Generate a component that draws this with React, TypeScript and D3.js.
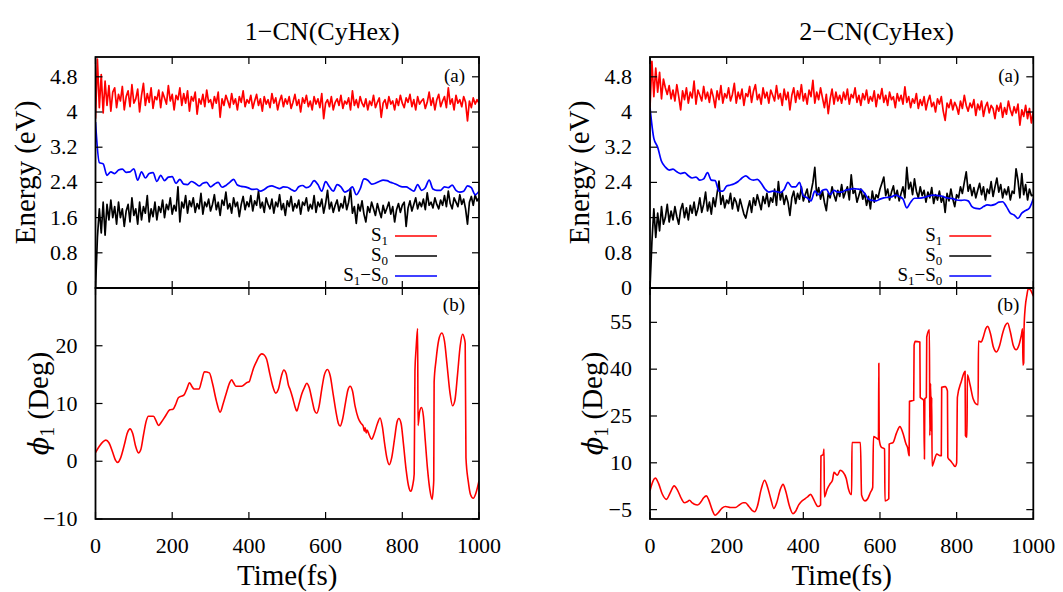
import React from 'react';
import * as d3 from 'd3';

// ---- data ----
const timeTicks = [0, 200, 400, 600, 800, 1000];
const energyTicks = [0, 0.8, 1.6, 2.4, 3.2, 4, 4.8];
const phiLeftTicks = [-10, 0, 10, 20];
const phiRightTicks = [-5, 10, 25, 40, 55];

// S1 / S0 energies (eV), one value every 5 fs
const s1Left = [
  3.85, 5.2, 4.1, 4.85, 3.98, 4.7, 4.15, 4.6, 4.02, 4.45, 4.55,
  4.1, 4.4, 4.25, 4.58, 4.05, 4.35, 4.48, 4.12, 4.62, 4.2,
  4.3, 4.52, 4.0, 4.38, 4.65, 4.15, 4.42, 4.22, 4.55, 4.08,
  4.35, 4.28, 4.5, 4.1, 4.45, 4.32, 4.18, 4.6, 4.25, 4.4,
  4.05, 4.38, 4.28, 4.55, 4.15, 4.42, 4.2, 4.48, 4.02, 4.35,
  4.25, 4.45, 3.95, 4.3, 4.18, 4.4, 4.12, 4.5, 4.22, 4.28,
  4.08, 4.35, 4.2, 4.45, 3.88, 4.3, 4.15, 4.38, 4.25, 4.1,
  4.42, 4.18, 4.3, 4.05, 4.35, 4.22, 4.48, 4.12, 4.28, 4.2,
  4.38, 4.08, 4.25, 4.4, 4.15, 4.3, 4.02, 4.35, 4.18, 4.28,
  4.1, 4.42, 4.2, 4.32, 4.05, 4.25, 4.38, 4.12, 4.3, 4.18,
  4.35, 4.08, 4.22, 4.4, 4.15, 4.28, 4.0, 4.32, 4.2, 4.38,
  4.12, 4.25, 4.05, 4.35, 4.18, 4.3, 4.1, 4.42, 3.85, 4.2,
  4.28, 4.12, 4.35, 4.05, 4.22, 4.3, 4.15, 4.38, 4.08, 4.25,
  4.18, 4.32, 4.05, 4.48, 4.15, 4.28, 4.1, 4.35, 4.2, 4.12,
  4.3, 4.05, 4.25, 4.15, 4.38, 4.1, 4.22, 4.32, 3.88, 4.2,
  4.28, 4.08, 4.35, 4.18, 4.25, 4.05, 4.3, 4.15, 4.38, 4.2,
  4.1, 4.32, 4.22, 4.4, 4.12, 4.28, 4.05, 4.35, 4.18, 4.25,
  4.3, 4.08, 4.22, 4.45, 4.15, 4.32, 4.05, 4.28, 4.4, 4.12,
  4.25, 4.35, 4.1, 4.55, 4.18, 4.3, 4.05, 4.38, 4.2, 4.28,
  4.12, 4.35, 4.22, 3.8, 4.25, 4.1, 4.32, 4.18, 4.28, 4.2,
];
const s0Left = [
  0.0, 1.15, 1.8, 1.25, 1.95, 1.2, 1.9, 1.55, 2.0, 1.6, 1.85,
  1.45, 1.95, 1.6, 1.8, 1.4, 1.75, 1.9, 1.5, 2.05, 1.65,
  1.8, 1.45, 1.95, 1.55, 1.85, 1.7, 2.1, 1.5, 1.8, 1.62,
  1.95, 1.55, 1.85, 1.72, 2.0, 1.6, 1.9, 1.78, 2.05, 1.68,
  1.88, 1.75, 2.3, 1.5, 1.95, 1.82, 2.1, 1.7, 1.98, 1.85,
  2.05, 1.72, 1.92, 1.8, 2.15, 1.68, 1.95, 1.85, 2.02, 1.75,
  1.9, 2.12, 1.78, 1.95, 1.65, 2.0, 1.88, 2.18, 1.8, 1.92,
  1.7, 2.05, 1.85, 1.95, 1.62, 1.9, 2.08, 1.78, 1.96, 1.85,
  2.1, 1.75, 1.98, 1.88, 2.2, 1.82, 1.95, 1.72, 2.05, 1.9,
  1.8, 2.02, 1.7, 1.95, 1.85, 2.12, 1.78, 1.92, 1.65, 1.98,
  1.85, 2.08, 1.75, 1.92, 1.82, 2.0, 1.68, 1.95, 1.88, 2.05,
  1.75, 1.9, 1.8, 2.1, 1.72, 1.95, 1.85, 2.02, 1.7, 1.92,
  2.22, 1.8, 1.95, 1.72, 1.88, 2.0, 1.75, 1.92, 1.82, 2.08,
  1.78, 1.95, 2.26, 1.7, 1.85, 1.47, 1.9, 1.75, 1.98, 1.68,
  1.5, 1.85, 1.72, 1.95, 1.8, 1.65, 1.92, 1.75, 1.6, 1.88,
  1.7, 1.82, 1.95, 1.68, 1.85, 1.5, 1.78, 1.92, 1.72, 1.88,
  1.95, 1.4, 1.82, 1.98, 1.75, 1.9, 2.05, 1.8, 1.95, 1.85,
  2.02, 1.78, 2.16, 1.88, 1.95, 1.82, 2.05, 1.9, 1.8, 2.0,
  1.88, 2.1, 1.85, 2.2, 1.92, 1.8, 2.05, 1.95, 1.85, 2.12,
  1.9, 2.02, 1.8, 1.45, 1.95, 2.08, 1.88, 2.12, 1.98, 2.05,
];
const s1Right = [
  4.1, 5.15, 4.35, 5.0, 4.45, 4.9, 4.3, 4.75, 4.55, 4.4, 4.6,
  4.3, 4.5, 4.25, 4.62, 4.35, 4.05, 4.48, 4.28, 4.55, 4.2,
  4.45, 4.32, 4.7, 4.18, 4.5, 4.38, 4.25, 4.58, 4.3, 4.45,
  4.22, 4.52, 4.35, 4.1, 4.48, 4.28, 4.6, 4.2, 4.42, 4.32,
  4.55, 4.25, 4.4, 4.65, 4.2, 4.45, 4.3, 4.52, 4.15, 4.42,
  4.35, 4.58, 4.22, 4.48, 4.62, 4.28, 4.4, 4.18, 4.55, 4.32,
  4.45, 4.2, 4.5, 4.38, 4.25, 4.6, 4.3, 4.42, 4.15, 4.52,
  4.28, 4.45, 4.05, 4.38, 4.55, 4.22, 4.48, 4.3, 4.62, 4.25,
  4.42, 4.18, 4.5, 4.35, 4.72, 4.2, 4.45, 4.28, 4.55, 4.32,
  4.1, 4.4, 3.96, 4.3, 4.52, 4.18, 4.45, 4.25, 4.38, 4.2,
  4.45, 4.28, 4.52, 4.18, 4.4, 4.32, 4.55, 4.22, 4.38, 4.15,
  4.42, 4.28, 4.5, 4.2, 4.35, 4.25, 4.48, 4.12, 4.4, 4.3,
  4.53, 4.22, 4.38, 4.15, 4.45, 4.28, 4.35, 4.1, 4.42, 4.25,
  4.38, 4.18, 4.57, 4.22, 4.35, 4.1, 4.3, 4.2, 4.42, 4.08,
  4.28, 4.15, 4.35, 4.05, 4.25, 4.38, 4.12, 4.22, 4.0, 4.3,
  4.18, 4.35, 4.02, 3.81, 4.2, 4.1, 4.28, 4.05, 4.22, 4.12,
  3.95, 4.25, 4.08, 4.38, 4.15, 4.02, 4.2, 4.1, 4.28, 3.92,
  4.18, 4.05, 4.25, 3.9, 4.12, 4.22, 3.98, 4.15, 4.08, 3.85,
  4.15, 4.02, 4.2, 3.88, 4.1, 3.95, 4.25, 4.05, 3.92, 4.12,
  3.98, 4.18, 3.7, 4.05, 3.9, 4.15, 3.85, 4.08, 3.75, 4.02,
];
const s0Right = [
  0.0, 1.05, 1.8, 1.15, 1.7, 1.3, 1.85, 1.45, 1.6, 1.9, 1.5,
  1.75, 1.55, 1.85, 1.62, 1.45, 1.78, 1.92, 1.6, 1.82, 1.55,
  1.88, 1.7, 1.95, 1.65, 1.8, 2.05, 1.72, 1.9, 2.18, 1.75,
  1.95, 1.68, 2.05, 1.85, 2.15, 2.43, 1.9, 2.1, 1.82, 2.0,
  1.92, 2.15, 1.8, 2.05, 1.95, 1.75, 2.02, 1.85, 1.68, 1.59,
  1.8, 1.98, 1.72, 2.05, 1.88, 2.12, 1.95, 1.78, 2.08, 1.92,
  2.15, 1.85, 2.05, 1.95, 2.25, 1.88, 2.42, 2.0, 2.18, 1.9,
  2.1, 1.95, 1.65, 2.05, 2.2, 1.92, 2.15, 2.02, 2.3, 1.98,
  2.12, 2.25, 1.95, 2.18, 2.4, 2.74, 2.1, 2.28, 2.02, 2.2,
  1.95, 1.76, 2.15, 2.05, 2.3, 2.12, 1.98, 2.22, 2.08, 2.35,
  2.05, 2.18, 2.3, 2.0, 2.57, 2.15, 2.22, 1.95, 2.1, 2.25,
  2.02, 2.15, 1.88, 2.08, 1.8, 2.2, 1.95, 2.12, 2.05, 2.25,
  2.38, 2.52, 2.1, 2.25, 2.0, 2.18, 2.32, 2.05, 2.22, 1.98,
  2.15, 2.3, 2.05, 2.74, 2.25, 2.4, 2.12, 2.48, 2.2, 2.05,
  2.3, 2.1, 2.22, 1.95, 2.18, 2.05, 2.28, 1.92, 2.12, 2.0,
  2.2, 1.95, 2.08, 1.72, 2.15, 1.98, 2.25, 2.02, 1.85, 2.12,
  2.05, 2.3, 2.15, 2.4, 2.64, 2.2, 2.35, 2.1, 2.28, 2.05,
  2.22, 2.38, 2.12, 2.3, 2.0, 2.25, 2.15, 2.42, 2.08, 2.3,
  2.5, 2.18, 2.35, 2.05, 2.25, 2.12, 2.3, 2.0, 2.2, 2.15,
  2.71, 2.45, 2.05, 2.6, 2.12, 2.35, 2.0, 2.25, 2.1, 2.11,
];

// S1-S0 gap (eV), one value every 10 fs
const gapLeft = [
  3.77, 2.85, 2.82, 2.56, 2.64, 2.6, 2.68, 2.7, 2.63, 2.64,
  2.71, 2.45, 2.64, 2.5, 2.6, 2.62, 2.42, 2.56, 2.44, 2.52,
  2.53, 2.38, 2.47, 2.36, 2.35, 2.42, 2.38, 2.32, 2.38, 2.4,
  2.3, 2.36, 2.4, 2.29, 2.33, 2.4, 2.47, 2.34, 2.31, 2.3,
  2.27, 2.24, 2.25, 2.2, 2.24, 2.3, 2.32, 2.29, 2.26, 2.3,
  2.29, 2.24, 2.2, 2.3, 2.33, 2.28, 2.32, 2.44, 2.35, 2.2,
  2.42, 2.3, 2.2, 2.35, 2.3, 2.18, 2.22, 2.3, 2.12, 2.25,
  2.48, 2.45, 2.36, 2.38, 2.42, 2.45, 2.44, 2.4, 2.37, 2.33,
  2.3, 2.3, 2.25, 2.2, 2.35, 2.22, 2.28, 2.45, 2.25, 2.22,
  2.22, 2.3, 2.28, 2.34, 2.22, 2.18, 2.2, 2.32, 2.28, 2.12,
  2.2,
];
const gapRight = [
  4.1, 3.4, 3.2, 2.88, 2.75, 2.68, 2.7, 2.64, 2.6, 2.62,
  2.55, 2.5, 2.52, 2.45, 2.48, 2.62, 2.45, 2.44, 2.2, 2.2,
  2.32, 2.34, 2.37, 2.42, 2.5, 2.55, 2.48, 2.45, 2.47, 2.38,
  2.25, 2.18, 2.2, 2.19, 2.17, 2.24, 2.4, 2.3, 2.3, 2.4,
  2.1, 2.05, 1.98, 2.2, 2.12, 2.22, 2.24, 2.12, 2.22, 2.18,
  2.18, 2.22, 2.24, 2.26, 2.25, 2.24, 2.15, 2.02, 1.99, 1.98,
  2.02, 2.05, 2.06, 2.07, 2.11, 2.08, 2.02, 1.82, 1.95, 2.04,
  2.04, 2.05, 2.07, 2.1, 2.11, 2.1, 2.09, 2.06, 2.04, 2.03,
  2.0, 1.99, 2.0, 1.98, 1.85, 1.81, 1.8, 1.85, 1.89, 1.88,
  1.9, 1.95, 1.96, 1.85, 1.7, 1.66, 1.58, 1.7, 1.76, 1.82,
  2.03,
];

// dihedral phi1 (deg): [time fs, angle]
const phiLeft: [number, number][] = [
  [0, 1.5], [10, 2.6], [20, 3.4], [27, 3.65], [35, 3.2], [45, 1.5], [52, 0.2], [58, -0.2],
  [65, 0.5], [75, 2.8], [83, 4.9], [90, 5.6], [97, 4.8], [105, 2.5], [112, 1.45], [118, 2.0],
  [125, 4.5], [132, 6.9], [138, 7.8], [151, 7.8], [158, 7.0], [164, 6.2], [172, 6.8], [182, 7.8],
  [194, 8.9], [202, 9.0], [210, 10.0], [216, 11.0], [231, 11.5], [238, 12.5], [245, 13.6],
  [251, 13.0], [257, 12.5], [270, 12.5], [277, 14.0], [284, 15.5], [297, 15.3], [305, 13.5],
  [315, 10.5], [325, 8.5], [333, 10.0], [342, 12.0], [350, 13.6], [355, 14.1], [360, 13.6],
  [366, 13.0], [381, 13.0], [394, 13.6], [401, 13.8], [406, 14.8], [412, 16.1], [420, 17.3],
  [428, 18.3], [433, 18.6], [440, 18.4], [446, 17.7], [455, 15.0], [463, 12.8], [470, 11.8],
  [477, 12.5], [485, 14.8], [491, 15.8], [497, 15.2], [503, 13.2], [507, 12.5], [514, 11.0],
  [520, 9.5], [525, 8.7], [531, 10.0], [538, 11.7], [545, 12.8], [551, 13.5], [557, 12.8],
  [565, 10.5], [571, 8.8], [577, 8.3], [583, 9.5], [590, 12.5], [597, 15.0], [605, 15.9],
  [612, 14.8], [620, 11.5], [628, 8.2], [633, 6.6], [638, 6.1], [645, 7.5], [652, 10.2],
  [658, 12.3], [664, 13.0], [670, 12.2], [677, 9.5], [685, 7.5], [692, 6.6], [698, 6.1],
  [701, 5.2], [703, 5.8], [706, 4.9], [708, 5.4], [714, 4.5], [720, 3.8], [727, 4.8],
  [735, 6.5], [742, 7.5], [748, 6.0], [754, 3.0], [760, 0.5], [766, -0.6], [772, 0.5],
  [780, 4.0], [786, 6.7], [791, 7.4], [797, 6.5], [803, 3.0], [810, -1.5], [816, -4.2],
  [822, -5.2], [827, -4.2], [831, -2.2], [833, 15.7], [836, 19.5], [840, 23.0], [841, 6.2],
  [845, 8.5], [850, 9.3], [855, 7.8], [860, 3.5], [866, -1.5], [872, -5.0], [878, -6.6],
  [881, -4.5], [882, -3.3], [883, 13.7], [888, 17.5], [895, 21.0], [903, 22.2], [910, 20.8],
  [917, 16.5], [924, 12.0], [931, 9.6], [937, 10.5], [944, 15.0], [951, 20.0], [957, 22.0],
  [962, 21.2], [964, 20.4], [966, 0.6], [972, -3.5], [978, -5.8], [985, -6.4], [992, -5.5],
  [1000, -3.4],
];
const phiRight: [number, number][] = [
  [0, 1.0], [5, 3.2], [14, 5.1], [22, 3.5], [32, 0.0], [43, -1.7], [52, 0.2], [63, 2.6],
  [72, 1.2], [82, -1.5], [90, -2.8], [97, -2.5], [103, -2.0], [110, -2.8], [116, -3.3],
  [124, -3.5], [133, -2.5], [140, -1.2], [147, -0.6], [153, -1.8], [162, -5.0], [170, -6.8],
  [178, -6.0], [188, -4.5], [197, -4.0], [210, -4.3], [223, -4.3], [233, -3.5], [243, -2.8],
  [249, -2.8], [258, -4.0], [267, -5.3], [273, -5.7], [280, -4.0], [290, 1.5], [299, 4.4],
  [306, 2.5], [315, -1.5], [323, -4.6], [330, -3.0], [340, 1.5], [347, 3.1], [354, 1.0],
  [363, -3.5], [373, -6.3], [380, -5.5], [388, -3.5], [395, -2.4], [405, -1.5], [412, -0.8],
  [419, -0.1], [425, -1.2], [432, -3.0], [438, -4.0], [445, -3.5], [446, 12.2], [452, 12.7],
  [454, 14.4], [455, -0.9], [462, 1.5], [470, 3.3], [476, 4.4], [480, 7.0], [484, 6.5],
  [489, 6.0], [496, 7.6], [504, 7.0], [512, 5.0], [518, 1.5], [524, -0.1], [526, -0.1],
  [527, 16.5], [549, 16.5], [552, -0.3], [561, -2.2], [568, -1.5], [575, 0.5], [581, 2.1],
  [583, 18.4], [591, 17.9], [596, 17.5], [597, 41.9], [598, 17.5], [603, 15.1], [612, 14.4],
  [613, -2.2], [623, -1.5], [624, 16.0], [634, 16.5], [643, 19.5], [652, 21.6], [660, 19.5],
  [668, 16.0], [672, 14.9], [676, 12.3], [677, 29.7], [688, 30.0], [689, 47.6], [692, 48.9],
  [704, 48.7], [705, 31.0], [714, 30.0], [716, 11.2], [717, 30.5], [721, 31.0], [722, 50.3],
  [729, 52.6], [730, 18.7], [732, 35.4], [734, 20.0], [735, 31.0], [736, 8.9], [741, 10.5],
  [748, 12.8], [757, 12.3], [760, 12.3], [761, 34.2], [770, 34.4], [776, 33.0], [777, 11.7],
  [785, 10.5], [791, 9.5], [796, 8.8], [800, 10.0], [802, 31.0], [812, 36.0], [822, 39.3],
  [823, 18.7], [827, 18.2], [828, 38.2], [835, 35.0], [843, 30.5], [851, 28.8], [856, 28.6],
  [857, 49.0], [864, 48.7], [870, 50.5], [876, 53.0], [881, 53.7], [888, 51.5], [896, 47.0],
  [904, 45.5], [912, 47.5], [920, 51.5], [927, 54.0], [933, 54.8], [940, 52.0], [948, 47.5],
  [955, 46.2], [962, 47.5], [969, 51.0], [972, 52.9], [973, 41.3], [975, 42.0], [976, 53.5],
  [979, 59.9], [983, 63.5], [987, 65.8], [992, 65.5], [1000, 63.4],
];

const FONT = '"Liberation Serif", "Times New Roman", Times, serif';
const TICK = 7;
const fmt = (d: number) => String(d).replace('-', '\u2212');

type Scale = d3.ScaleLinear<number, number>;

// box with mirrored inward ticks (gnuplot style)
function Frame({ x, y, yTicks, xLabels }: { x: Scale; y: Scale; yTicks: number[]; xLabels: boolean }) {
  const [x0, x1] = x.range();
  const [y1, y0] = y.range();
  return (
    <g stroke="#000" strokeWidth={1.2}>
      {timeTicks.map((t) => (
        <g key={'xt' + t}>
          <line x1={x(t)} x2={x(t)} y1={y1} y2={y1 - TICK} />
          <line x1={x(t)} x2={x(t)} y1={y0} y2={y0 + TICK} />
          {xLabels && (
            <text x={x(t)} y={y1 + 34} textAnchor="middle" stroke="none" fill="#000" fontSize={22}>
              {fmt(t)}
            </text>
          )}
        </g>
      ))}
      {yTicks.map((v) => (
        <g key={'yt' + v}>
          <line x1={x0} x2={x0 + TICK} y1={y(v)} y2={y(v)} />
          <line x1={x1} x2={x1 - TICK} y1={y(v)} y2={y(v)} />
          <text x={x0 - 18} y={y(v) + 7} textAnchor="end" stroke="none" fill="#000" fontSize={22}>
            {fmt(v)}
          </text>
        </g>
      ))}
      <rect x={x0} y={y0} width={x1 - x0} height={y1 - y0} fill="none" strokeWidth={1.8} />
    </g>
  );
}

function Sub({ children }: { children: React.ReactNode }) {
  return (
    <tspan dy={4} fontSize={13}>
      {children}
    </tspan>
  );
}

function Column(props: {
  id: string;
  x0: number;
  x1: number;
  title: string;
  s1: number[];
  s0: number[];
  gap: number[];
  phi: [number, number][];
  phiDomain: [number, number];
  phiTicks: number[];
}) {
  const { id, x0, x1, title, s1, s0, gap, phi, phiDomain, phiTicks } = props;
  const top = { y0: 57, y1: 288 };
  const bot = { y0: 288, y1: 519 };

  const x = d3.scaleLinear().domain([0, 1000]).range([x0, x1]);
  const yE = d3.scaleLinear().domain([0, 5.25]).range([top.y1, top.y0]);
  const yP = d3.scaleLinear().domain(phiDomain).range([bot.y1, bot.y0]);

  const eLine = (step: number) =>
    d3
      .line<number>()
      .x((_, i) => x(i * step))
      .y((d) => yE(d));
  const gapLine = eLine(10).curve(d3.curveMonotoneX);
  const phiLine = d3
    .line<[number, number]>()
    .x((d) => x(d[0]))
    .y((d) => yP(d[1]))
    .curve(d3.curveMonotoneX);

  const cx = (x0 + x1) / 2;
  const legX = x1 - 84;
  const legendRows = [
    { key: 's1', color: '#ff0000', y: 236 },
    { key: 's0', color: '#000000', y: 256 },
    { key: 'gap', color: '#0000ff', y: 276 },
  ];

  return (
    <g>
      <defs>
        <clipPath id={id + 'top'}>
          <rect x={x0} y={top.y0} width={x1 - x0} height={top.y1 - top.y0} />
        </clipPath>
        <clipPath id={id + 'bot'}>
          <rect x={x0} y={bot.y0} width={x1 - x0} height={bot.y1 - bot.y0} />
        </clipPath>
      </defs>

      <text x={cx + 35} y={40} textAnchor="middle" fontSize={26}>
        {title}
      </text>

      <g clipPath={`url(#${id}top)`} fill="none" strokeWidth={1.7} strokeLinejoin="round">
        <path d={eLine(5)(s0) || ''} stroke="#000000" />
        <path d={eLine(5)(s1) || ''} stroke="#ff0000" />
        <path d={gapLine(gap) || ''} stroke="#0000ff" />
      </g>
      <g clipPath={`url(#${id}bot)`} fill="none" strokeWidth={1.6}>
        <path d={phiLine(phi) || ''} stroke="#ff0000" strokeLinejoin="round" />
      </g>

      <Frame x={x} y={yE} yTicks={energyTicks} xLabels={false} />
      <Frame x={x} y={yP} yTicks={phiTicks} xLabels={true} />

      <text x={x1 - 14} y={82} textAnchor="end" fontSize={19}>(a)</text>
      <text x={x1 - 14} y={311} textAnchor="end" fontSize={19}>(b)</text>

      {/* legend */}
      {legendRows.map((r) => (
        <line key={r.key} x1={legX} x2={legX + 42} y1={r.y} y2={r.y} stroke={r.color} strokeWidth={1.6} />
      ))}
      <text x={legX - 7} y={241} textAnchor="end" fontSize={19}>
        S<Sub>1</Sub>
      </text>
      <text x={legX - 7} y={261} textAnchor="end" fontSize={19}>
        S<Sub>0</Sub>
      </text>
      <text x={legX - 7} y={281} textAnchor="end" fontSize={19}>
        S<Sub>1</Sub>
        <tspan dy={-4}>{'\u2212'}S</tspan>
        <Sub>0</Sub>
      </text>

      {/* axis titles */}
      <text transform={`translate(${x0 - 61},${(top.y0 + top.y1) / 2}) rotate(-90)`} textAnchor="middle" fontSize={29}>
        Energy (eV)
      </text>
      <text transform={`translate(${x0 - 48},${(bot.y0 + bot.y1) / 2}) rotate(-90)`} textAnchor="middle" fontSize={29}>
        <tspan fontStyle="italic" fontFamily='"DejaVu Serif", "Liberation Serif", serif' fontSize={27}>
          {'\u03d5'}
        </tspan>
        <tspan dy={6} fontSize={20}>1</tspan>
        <tspan dy={-6}> (Deg)</tspan>
      </text>
      <text x={cx} y={585} textAnchor="middle" fontSize={29}>
        Time(fs)
      </text>
    </g>
  );
}

export default function App() {
  return (
    <div style={{ position: 'absolute', left: 0, top: 0 }}>
      <svg width={1063} height={592} style={{ display: 'block', background: '#fff', fontFamily: FONT }}>
        <Column
          id="l"
          x0={95.5}
          x1={479}
          title={'1\u2212CN(CyHex)'}
          s1={s1Left}
          s0={s0Left}
          gap={gapLeft}
          phi={phiLeft}
          phiDomain={[-10, 30]}
          phiTicks={phiLeftTicks}
        />
        <Column
          id="r"
          x0={650}
          x1={1033.3}
          title={'2\u2212CN(CyHex)'}
          s1={s1Right}
          s0={s0Right}
          gap={gapRight}
          phi={phiRight}
          phiDomain={[-8, 66]}
          phiTicks={phiRightTicks}
        />
      </svg>
    </div>
  );
}
